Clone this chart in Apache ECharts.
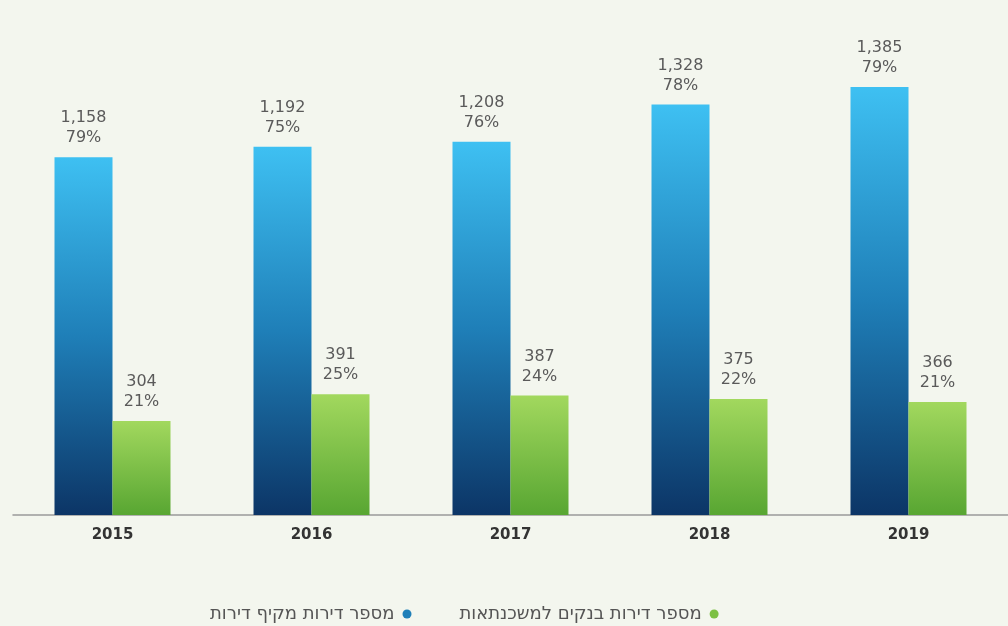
<!DOCTYPE html>
<html lang="he">
<head>
<meta charset="utf-8">
<title>מספר דירות</title>
<script src="https://cdn.jsdelivr.net/npm/echarts@6/dist/echarts.min.js"></script>
<style>
  html, body { margin: 0; padding: 0; background: #f3f6ee; }
  #chart { width: 1008px; height: 626px; }
</style>
</head>
<body>
<div id="chart"></div>
<script>
// Years on the category axis
const years = ['2015', '2016', '2017', '2018', '2019'];

// Series names (legend)
const nameTotal = 'מספר דירות מקיף דירות';
const nameBanks = 'מספר דירות בנקים למשכנתאות';

// Values per year
const totalValues = [1158, 1192, 1208, 1328, 1385];
const bankValues = [304, 391, 387, 375, 366];

// Share labels (percent) per year
const totalShares = [79, 75, 76, 78, 79];
const bankShares = [21, 25, 24, 22, 21];

const fmt = n => n.toLocaleString('en-US');

const chart = echarts.init(document.getElementById('chart'), null, { renderer: 'canvas' });

const labelStyle = {
  show: true,
  position: 'top',
  distance: 9,
  color: '#5a5a5a',
  fontFamily: 'DejaVu Sans',
  fontSize: 16,
  lineHeight: 20,
  align: 'center'
};

chart.setOption({
  backgroundColor: '#f3f6ee',
  animation: false,
  grid: { left: 13, right: -5, top: 87, bottom: 111 },
  legend: {
    top: 600,
    left: 205,
    align: 'right',
    itemGap: 48,
    itemWidth: 9,
    itemHeight: 9,
    icon: 'circle',
    textStyle: { color: '#555', fontSize: 18, fontFamily: 'DejaVu Sans', padding: [0, 3, 0, 0] },
    data: [
      { name: nameTotal, itemStyle: { color: '#1f7fb8' } },
      { name: nameBanks, itemStyle: { color: '#7cc043' } }
    ]
  },
  xAxis: {
    type: 'category',
    data: years,
    axisLine: { lineStyle: { color: '#9a9a9a', width: 1.5 } },
    axisTick: { show: false },
    axisLabel: { color: '#333', fontWeight: 'bold', fontSize: 15, fontFamily: 'DejaVu Sans', margin: 13 }
  },
  yAxis: {
    type: 'value',
    min: 0,
    max: 1385,
    show: false,
    splitLine: { show: false }
  },
  series: [
    {
      name: nameTotal,
      type: 'bar',
      barWidth: 58,
      barGap: '0%',
      data: totalValues,
      itemStyle: {
        color: new echarts.graphic.LinearGradient(0, 0, 0, 1, [
          { offset: 0, color: '#3ec0f2' },
          { offset: 0.5, color: '#1f7fb8' },
          { offset: 1, color: '#0c3566' }
        ])
      },
      label: Object.assign({}, labelStyle, {
        formatter: p => fmt(p.value) + '\n' + totalShares[p.dataIndex] + '%'
      })
    },
    {
      name: nameBanks,
      type: 'bar',
      barWidth: 58,
      barGap: '0%',
      data: bankValues,
      itemStyle: {
        color: new echarts.graphic.LinearGradient(0, 0, 0, 1, [
          { offset: 0, color: '#a2d85e' },
          { offset: 1, color: '#58a632' }
        ])
      },
      label: Object.assign({}, labelStyle, {
        formatter: p => fmt(p.value) + '\n' + bankShares[p.dataIndex] + '%'
      })
    }
  ]
});
</script>
</body>
</html>
